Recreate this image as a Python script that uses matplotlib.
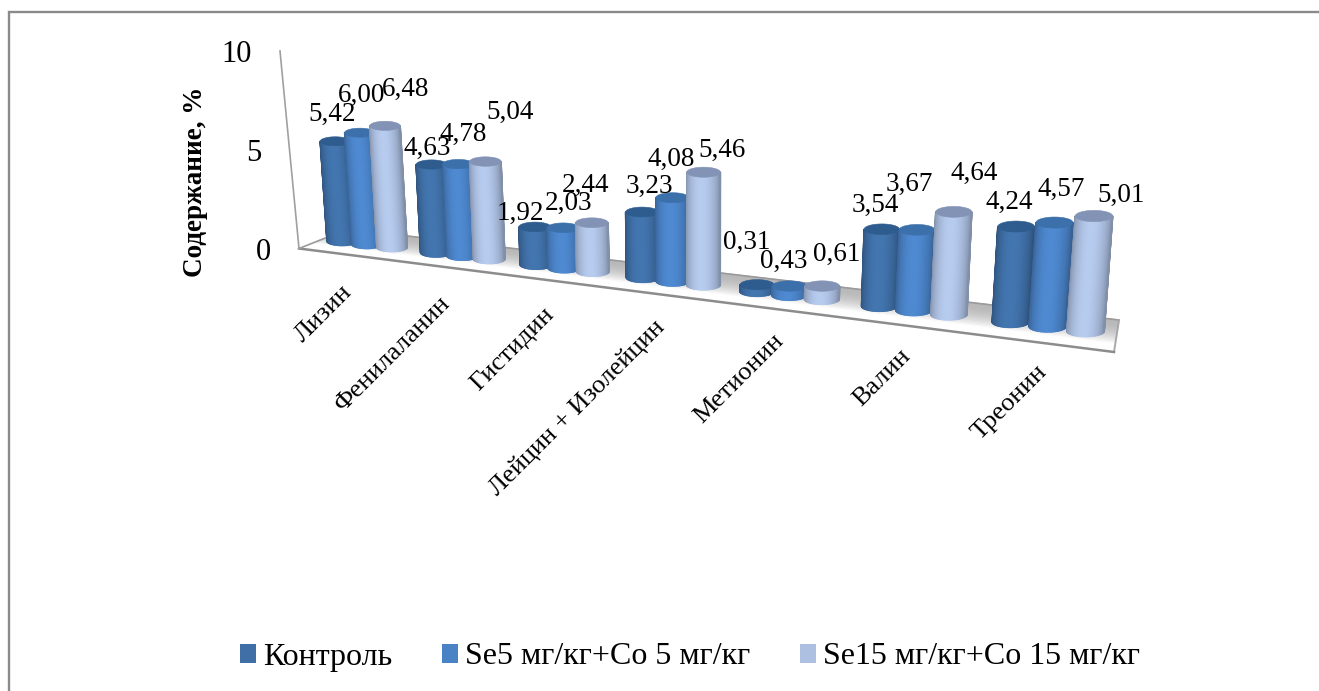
import numpy as np
import matplotlib
matplotlib.use('Agg')
import matplotlib.pyplot as plt
from matplotlib.collections import PolyCollection
from matplotlib.patches import Polygon, Patch
from matplotlib.colors import to_rgb

plt.rcParams['font.family'] = ['Liberation Serif', 'DejaVu Serif']

categories = ['Лизин', 'Фенилаланин', 'Гистидин', 'Лейцин + Изолейцин',
              'Метионин', 'Валин', 'Треонин']
series_names = ['Контроль', 'Se5 мг/кг+Co 5 мг/кг', 'Se15 мг/кг+Co 15 мг/кг']
control = [5.42, 4.63, 1.92, 3.23, 0.31, 3.54, 4.24]
se5_co5 = [6.00, 4.78, 2.03, 4.08, 0.43, 3.67, 4.57]
se15_co15 = [6.48, 5.04, 2.44, 5.46, 0.61, 4.64, 5.01]
y_ticks = [0, 5, 10]
y_title = 'Содержание, %'

side_colors = ['#3f6fa6', '#4a82c6', '#adc0e2']
top_colors = ['#2f5c8e', '#3c70aa', '#8293b6']

# label nudges from the top of each cylinder, per series, hand tuned
label_dx = [[-3, -4, -15, 7, -10, -6, -7],
            [2, 5, 5, -1, -6, -8, 7],
            [21, 25, -6, 18, 14, 20, 27]]
label_dy = [[-27, -16, -13, -26, -42, -24, -24],
            [-37, -30, -24, -38, -25, -45, -33],
            [-36, -49, -37, -22, -32, -38, -21]]

# perspective of the chart, everything below is in pixels of the figure
BAR_STEP = 0.27
PERSP = 0.0303


def x_floor(u):
    return (80.8*u + 342) / (1 - PERSP*u)


def y_floor(x):
    return 241 + 0.121*(x - 342)


def scale(u):
    return 1 / (1 - PERSP*u)


def lean(x):
    return 0.00019*(x - 700)


def cylinder_geometry(u, value):
    xb = x_floor(u)
    yb = y_floor(xb)
    height = value * 18.4 * scale(u)
    xt = xb + lean(xb)*height
    yt = yb - height
    rx = 15 * scale(u)
    return xb, yb, xt, yt, rx, 0.3*rx


def shade(color, t):
    # t goes 0..1 over the visible side, bright part a bit right of the middle
    c = np.array(to_rgb(color))
    f = 0.74 + 0.32*np.sin(np.pi*t**0.85)**0.7
    return np.clip(c*f, 0, 1)


def draw_cylinder(ax, u, value, side, top, z):
    xb, yb, xt, yt, rx, ry = cylinder_geometry(u, value)
    n = 40
    ang = np.linspace(np.pi, 0, n + 1)
    quads = []
    cols = []
    for k in range(n):
        a0, a1 = ang[k], ang[k + 1]
        quads.append([(xt + rx*np.cos(a0), yt + ry*np.sin(a0)),
                      (xt + rx*np.cos(a1), yt + ry*np.sin(a1)),
                      (xb + rx*np.cos(a1), yb + ry*np.sin(a1)),
                      (xb + rx*np.cos(a0), yb + ry*np.sin(a0))])
        cols.append(shade(side, (np.cos(a0) + 1)/2))
    # wide edges so neighbouring strips overlap and leave no seams
    ax.add_collection(PolyCollection(quads, facecolors=cols, edgecolors=cols,
                                     linewidths=1.1, zorder=z))
    full = np.linspace(0, 2*np.pi, 80)
    ax.add_patch(Polygon(np.c_[xt + rx*np.cos(full), yt + ry*np.sin(full)],
                         closed=True, fc=top, ec=top, lw=0.4, zorder=z + 0.1))
    return xt, yt


def draw_floor(ax):
    front_l, front_r = np.array([299.0, 248.5]), np.array([1114.0, 352.0])
    back_l, back_r = np.array([348.0, 229.0]), np.array([1119.0, 320.0])
    n = 24
    quads = []
    cols = []
    for k in range(n):
        t0, t1 = k/n, (k + 1)/n
        quads.append([back_l + (front_l - back_l)*t0, back_r + (front_r - back_r)*t0,
                      back_r + (front_r - back_r)*t1, back_l + (front_l - back_l)*t1])
        g = 0.72 + 0.28*min(1, t0*1.35)**2
        cols.append((g, g, g))
    ax.add_collection(PolyCollection(quads, facecolors=cols, edgecolors=cols,
                                     linewidths=0.8, zorder=1))
    outline = np.array([back_l, back_r, front_r, front_l, back_l])
    ax.plot(outline[:2, 0], outline[:2, 1], c='#9a9a9a', lw=1.2, zorder=1.5)
    ax.plot(outline[1:3, 0], outline[1:3, 1], c='#a8a8a8', lw=1.4, zorder=1.5)
    ax.plot(outline[2:4, 0], outline[2:4, 1], c='#8c8c8c', lw=1.8, zorder=1.5)
    ax.plot(outline[3:5, 0], outline[3:5, 1], c='#9a9a9a', lw=1.2, zorder=1.5)
    # value axis wall edge
    ax.plot([front_l[0], 280], [front_l[1], 51], c='#a0a0a0', lw=1.2, zorder=1.5)


fig = plt.figure(figsize=(13.19, 6.91), dpi=100)
ax = fig.add_axes([0, 0, 1, 1])
ax.set_xlim(0, 1319)
ax.set_ylim(691, 0)
ax.axis('off')

# chart frame, open on the right and at the bottom
ax.plot([9, 9, 1319], [691, 12, 12], c='#8a8a8a', lw=1.7, solid_joinstyle='miter')

draw_floor(ax)

values = [control, se5_co5, se15_co15]
for i in range(len(categories)):
    for j, vals in enumerate(values):
        u = i + j*BAR_STEP
        xt, yt = draw_cylinder(ax, u, vals[i], side_colors[j], top_colors[j], 2 + i + j*0.2)
        ax.text(xt + label_dx[j][i], yt + label_dy[j][i], f'{vals[i]:.2f}'.replace('.', ','),
                fontsize=19.5, ha='center', va='center', color='black', zorder=20)

    # category label ends under the middle bar of its group
    xc = x_floor(i + BAR_STEP)
    yf = 248.5 + (352 - 248.5)/(1114 - 299)*(xc - 299)
    ax.text(xc - 26 + 2.3*i, yf + 24 - 1.2*i, categories[i], fontsize=19, rotation=45,
            ha='right', va='top', rotation_mode='anchor', color='black', zorder=20)

# value ticks follow the leaning wall edge
for tick in y_ticks:
    ax.text(271 - 1.9*tick, 252 - 19.8*tick, str(tick), fontsize=22, ha='right',
            va='center', color='black')

ax.text(196, 182, y_title, fontsize=19.5, fontweight='bold', rotation=90,
        ha='center', va='center', color='black')

handles = [Patch(fc=c, ec='none') for c in side_colors]
ax.legend(handles, series_names, loc='center', bbox_to_anchor=(690/1319, 1 - 657/691),
          ncol=3, frameon=False, fontsize=23, handlelength=0.5, handleheight=0.55,
          handletextpad=0.22, columnspacing=1.55, borderpad=0, labelcolor='black')

fig.savefig('out.png', dpi=100)
